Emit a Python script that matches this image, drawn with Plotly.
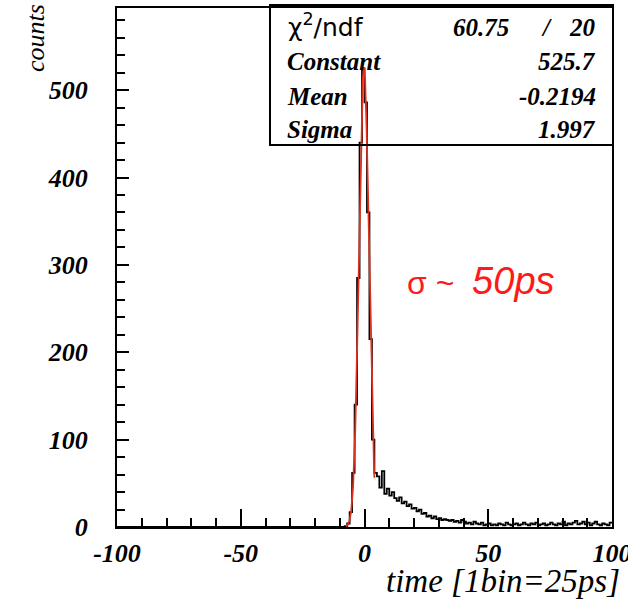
import numpy as np
import plotly.graph_objects as go

# ---- data ----
bin_left_edges = list(range(-100, 100))
# counts per 1-unit bin, listed from bin [-10,-9] through [99,100]; bins below -10 are empty
core_counts = [0, 0, 1, 4, 17, 62, 140, 285, 440, 525, 486, 360, 215, 100, 62]  # bins -10..4
tail_counts = [58, 45, 64, 38, 44, 36, 40, 33, 30, 34, 27, 29, 24, 26, 21, 22, 18, 20, 15, 16,
               12, 13, 10, 12, 9, 10, 8, 9, 8, 7, 8, 6, 7, 5, 8, 6, 4, 5, 3, 6,
               4, 3, 5, 2, 3, 4, 2, 3, 2, 4, 3, 2, 5, 3, 2, 3, 4, 2, 3, 5,
               3, 2, 4, 3, 5, 2, 3, 4, 2, 3, 5, 3, 2, 4, 3, 6, 2, 4, 3, 5,
               7, 3, 4, 6, 3, 5, 2, 4, 6, 3, 2, 4, 3, 2, 5]  # bins 5..99
counts = [0] * 90 + core_counts + tail_counts

# fit parameters shown in the stats box
chi2_val, ndf_val = "60.75", "20"
fit_constant, fit_mean, fit_sigma = 525.7, -0.2194, 1.997
fit_range = (-7.5, 4.0)

x_ticks = [-100, -50, 0, 50, 100]
y_ticks = [0, 100, 200, 300, 400, 500]

# ---- figure ----
hx = bin_left_edges + [100]
hy = counts + [counts[-1]]

fx = np.linspace(fit_range[0], fit_range[1], 200)
fy = fit_constant * np.exp(-0.5 * ((fx - fit_mean) / fit_sigma) ** 2)

fig = go.Figure()
fig.add_trace(go.Scatter(x=hx, y=hy, mode="lines", line=dict(color="black", width=1.8, shape="hv"),
                         hoverinfo="skip", showlegend=False, cliponaxis=False))
fig.add_trace(go.Scatter(x=fx, y=fy, mode="lines", line=dict(color="#e0301e", width=1.8),
                         showlegend=False))

tickfont = dict(family="Liberation Serif", size=26, color="black", weight="bold", style="italic")

fig.update_xaxes(range=[-100, 100], tickmode="array", tickvals=x_ticks, ticktext=[str(v) for v in x_ticks],
                 ticks="inside", ticklen=18, tickwidth=1.5, tickcolor="black",
                 minor=dict(dtick=10, tick0=0, ticks="inside", ticklen=9, tickwidth=1.5, tickcolor="black"),
                 showline=True, linewidth=2, linecolor="black", mirror=True,
                 showgrid=False, zeroline=False, tickfont=tickfont,
                 ticklabeloverflow="allow", ticklabelstandoff=2)
fig.update_yaxes(range=[0, 594], tickmode="array", tickvals=y_ticks, ticktext=[str(v) for v in y_ticks],
                 ticks="inside", ticklen=12, tickwidth=1.5, tickcolor="black",
                 minor=dict(dtick=20, tick0=0, ticks="inside", ticklen=8, tickwidth=1.5, tickcolor="black"),
                 showline=True, linewidth=2, linecolor="black", mirror=True,
                 showgrid=False, zeroline=False, tickfont=tickfont,
                 ticklabeloverflow="allow", ticklabelstandoff=22)

L, R, T, B = 117, 612, 8, 527
W, H = 628, 599


def px(xp):
    return (xp - L) / (R - L)


def py(yp):
    return (B - yp) / (B - T)


shapes = [dict(type="rect", xref="paper", yref="paper", x0=px(270), x1=px(613), y0=py(145), y1=py(5),
               line=dict(color="black", width=2), fillcolor="rgba(0,0,0,0)", layer="above")]

serif_bi = dict(family="Liberation Serif", size=25, color="black", weight="bold", style="italic")
ann = []
ann.append(dict(x=px(286), y=py(26), xref="paper", yref="paper", xanchor="left", yanchor="middle",
                text="χ<sup>2</sup>/ndf", showarrow=False,
                font=dict(family="DejaVu Sans", size=25, color="black")))
ann.append(dict(x=px(511), y=py(27), xref="paper", yref="paper", xanchor="right", yanchor="middle",
                text=chi2_val, showarrow=False, font=serif_bi))
ann.append(dict(x=px(546), y=py(27), xref="paper", yref="paper", xanchor="center", yanchor="middle",
                text="/", showarrow=False, font=serif_bi))
ann.append(dict(x=px(598), y=py(27), xref="paper", yref="paper", xanchor="right", yanchor="middle",
                text=ndf_val, showarrow=False, font=serif_bi))
rows = [("Constant", f"{fit_constant}", 62), ("Mean", f"{fit_mean}", 96), ("Sigma", f"{fit_sigma}", 129)]
for name, val, yy in rows:
    ann.append(dict(x=px(285), y=py(yy), xref="paper", yref="paper", xanchor="left", yanchor="middle",
                    text=name, showarrow=False, font=serif_bi))
    ann.append(dict(x=px(598), y=py(yy), xref="paper", yref="paper", xanchor="right", yanchor="middle",
                    text=val, showarrow=False, font=serif_bi))

ann.append(dict(x=px(405), y=py(281), xref="paper", yref="paper", xanchor="left", yanchor="middle",
                text="σ ~&nbsp;&nbsp;<i><span style='font-size:38px'>50ps</span></i>", showarrow=False,
                font=dict(family="Liberation Sans", size=32, color="#ff1a1a")))
ann.append(dict(x=px(36), y=py(38), xref="paper", yref="paper", xanchor="center", yanchor="middle",
                text="counts", textangle=-90, showarrow=False,
                font=dict(family="Liberation Serif", size=26, color="black", style="italic")))
ann.append(dict(x=px(622), y=py(581), xref="paper", yref="paper", xanchor="right", yanchor="middle",
                text="time [1bin=25ps]", showarrow=False,
                font=dict(family="Liberation Serif", size=33, color="black", style="italic")))

fig.update_layout(width=W, height=H, margin=dict(l=L, r=W - R, t=T, b=H - B, autoexpand=False),
                  paper_bgcolor="white", plot_bgcolor="white", shapes=shapes, annotations=ann)

fig.write_html("out.html", config={"displayModeBar": False},
               post_script="document.body.style.margin='0';")
